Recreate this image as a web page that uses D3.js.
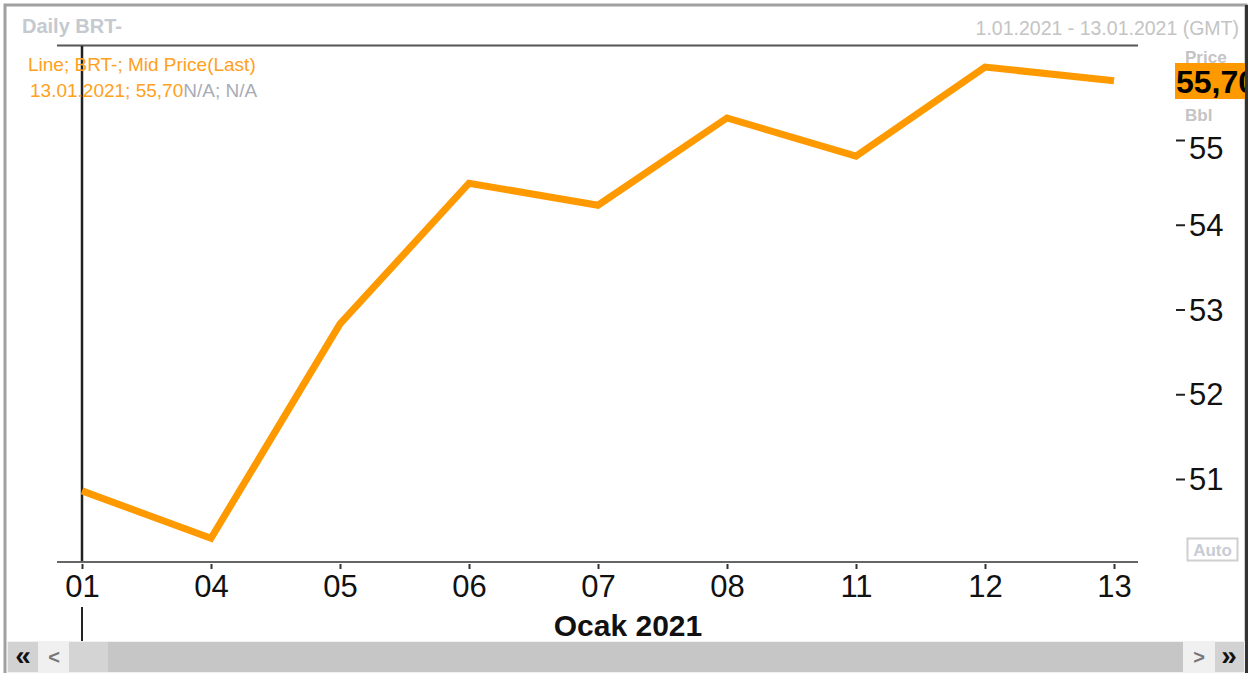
<!DOCTYPE html>
<html>
<head>
<meta charset="utf-8">
<script src="https://cdn.jsdelivr.net/npm/d3@7.9.0/dist/d3.min.js"></script>
<style>
  body { margin: 0; background: #fff; }
  svg { display: block; font-family: "Liberation Sans", Arial, sans-serif; }
</style>
</head>
<body>
<svg id="chart" width="1253" height="673"></svg>
<script>
// values (BRT mid price, January 2021)
const days = ['01', '04', '05', '06', '07', '08', '11', '12', '13'];
const prices = [50.86, 50.30, 52.83, 54.49, 54.23, 55.26, 54.81, 55.86, 55.70];
const yTicks = [51, 52, 53, 54, 55];
const lastLabel = '55,70';

const svg = d3.select('#chart');
const orange = '#ff9900';

let x = d3.scalePoint()
  .domain(days)
  .range([82, 1114]);

let y = d3.scaleLinear()
  .domain([51, 55])
  .range([479, 140]);

// outer frame
svg.append('rect')
  .attr('x', 5).attr('y', 5).attr('width', 1241).attr('height', 680)
  .attr('fill', 'none').attr('stroke', '#a0a0a0').attr('stroke-width', 3);
svg.append('line')
  .attr('x1', 1246.5).attr('x2', 1246.5).attr('y1', 5).attr('y2', 673)
  .attr('stroke', '#333').attr('stroke-width', 3);

// header texts
svg.append('text')
  .attr('x', 22).attr('y', 33)
  .attr('font-size', 20).attr('font-weight', 'bold').attr('fill', '#c5c9d0')
  .text('Daily BRT-');
svg.append('text')
  .attr('x', 1239).attr('y', 35).attr('text-anchor', 'end')
  .attr('font-size', 19.5).attr('fill', '#c4c4c4')
  .text('1.01.2021 - 13.01.2021 (GMT)');

// plot frame lines
svg.append('line')
  .attr('x1', 57).attr('x2', 1138).attr('y1', 45.5).attr('y2', 45.5)
  .attr('stroke', '#555').attr('stroke-width', 2);
svg.append('line')
  .attr('x1', 57).attr('x2', 1138).attr('y1', 562).attr('y2', 562)
  .attr('stroke', '#666').attr('stroke-width', 2);

// cursor line at first point
svg.append('line')
  .attr('x1', x('01')).attr('x2', x('01')).attr('y1', 46).attr('y2', 561)
  .attr('stroke', '#222').attr('stroke-width', 2.5);
svg.append('line')
  .attr('x1', x('01')).attr('x2', x('01')).attr('y1', 607).attr('y2', 641)
  .attr('stroke', '#222').attr('stroke-width', 2);

// legend
svg.append('text')
  .attr('x', 28).attr('y', 71)
  .attr('font-size', 19).attr('fill', '#ffa020')
  .text('Line; BRT-; Mid Price(Last)');
let leg2 = svg.append('text')
  .attr('x', 30).attr('y', 97)
  .attr('font-size', 19);
leg2.append('tspan').attr('fill', '#ffa020').text('13.01.2021; ' + lastLabel);
leg2.append('tspan').attr('fill', '#a8acb4').text('N/A; N/A');

// price line
let line = d3.line()
  .x((d, i) => x(days[i]))
  .y(d => y(d));

svg.append('path')
  .datum(prices)
  .attr('d', line)
  .attr('fill', 'none')
  .attr('stroke', orange)
  .attr('stroke-width', 7)
  .attr('stroke-linejoin', 'miter');

// x axis
let xAxis = d3.axisBottom(x)
  .tickSize(5)
  .tickPadding(6);

let gx = svg.append('g')
  .attr('transform', 'translate(0,564)')
  .call(xAxis);
gx.select('.domain').remove();
gx.selectAll('.tick line').attr('stroke', '#333').attr('stroke-width', 2);
gx.selectAll('.tick text')
  .attr('font-size', 31)
  .attr('font-family', '"Liberation Sans", Arial, sans-serif')
  .attr('fill', '#111');

svg.append('text')
  .attr('x', 628).attr('y', 636).attr('text-anchor', 'middle')
  .attr('font-size', 30).attr('font-weight', 'bold').attr('fill', '#111')
  .text('Ocak 2021');

// y axis on the right
let yAxis = d3.axisRight(y)
  .tickValues(yTicks)
  .tickSize(9)
  .tickPadding(4)
  .tickFormat(d3.format('d'));

let gy = svg.append('g')
  .attr('transform', 'translate(1176,0)')
  .call(yAxis);
gy.select('.domain').remove();
gy.selectAll('.tick line').attr('stroke', '#222').attr('stroke-width', 2);
gy.selectAll('.tick text')
  .attr('font-size', 31)
  .attr('font-family', '"Liberation Sans", Arial, sans-serif')
  .attr('fill', '#111')
  .attr('dy', d => d === 55 ? '0.6em' : '0.34em');

// right header: Price / last value / Bbl
svg.append('text')
  .attr('x', 1185).attr('y', 63)
  .attr('font-size', 17).attr('font-weight', 'bold').attr('fill', '#c4c4c4')
  .text('Price');
svg.append('rect')
  .attr('x', 1175).attr('y', 63).attr('width', 70).attr('height', 36)
  .attr('fill', orange);
svg.append('svg')
  .attr('x', 1175).attr('y', 63).attr('width', 70).attr('height', 36)
  .append('text')
  .attr('x', 1).attr('y', 30)
  .attr('font-size', 32).attr('font-weight', 'bold').attr('fill', '#000')
  .text(lastLabel);
svg.append('text')
  .attr('x', 1185).attr('y', 121)
  .attr('font-size', 17).attr('font-weight', 'bold').attr('fill', '#c4c4c4')
  .text('Bbl');

// Auto button
svg.append('rect')
  .attr('x', 1187.5).attr('y', 538.5).attr('width', 50).attr('height', 22)
  .attr('fill', '#fff').attr('stroke', '#cfcfcf').attr('stroke-width', 2);
svg.append('text')
  .attr('x', 1212.5).attr('y', 556).attr('text-anchor', 'middle')
  .attr('font-size', 17).attr('font-weight', 'bold').attr('fill', '#c8ccd4')
  .text('Auto');

// scroll bar
let sb = svg.append('g').attr('transform', 'translate(0,641)');
sb.append('rect').attr('x', 7).attr('y', 0).attr('width', 1238).attr('height', 32).attr('fill', '#f0f0f0');
sb.append('rect').attr('x', 8).attr('y', 1).attr('width', 30).attr('height', 30).attr('fill', '#d2d2d2');
sb.append('rect').attr('x', 69).attr('y', 1).attr('width', 39).attr('height', 30).attr('fill', '#d4d4d4');
sb.append('rect').attr('x', 108).attr('y', 1).attr('width', 1075).attr('height', 30).attr('fill', '#c6c6c6');
sb.append('rect').attr('x', 1215).attr('y', 1).attr('width', 29).attr('height', 30).attr('fill', '#d2d2d2');
sb.append('text').attr('x', 23).attr('y', 24).attr('text-anchor', 'middle')
  .attr('font-size', 28).attr('font-weight', 'bold').attr('fill', '#111').text('«');
sb.append('text').attr('x', 54).attr('y', 23).attr('text-anchor', 'middle')
  .attr('font-size', 20).attr('font-weight', 'bold').attr('fill', '#777').text('<');
sb.append('text').attr('x', 1199).attr('y', 23).attr('text-anchor', 'middle')
  .attr('font-size', 20).attr('font-weight', 'bold').attr('fill', '#777').text('>');
sb.append('text').attr('x', 1229).attr('y', 24).attr('text-anchor', 'middle')
  .attr('font-size', 28).attr('font-weight', 'bold').attr('fill', '#111').text('»');
</script>
</body>
</html>
